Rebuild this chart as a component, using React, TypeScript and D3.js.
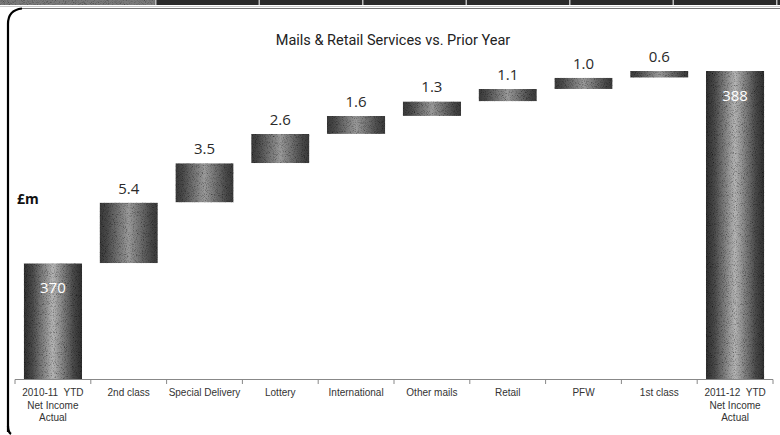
import React from "react";
import * as d3 from "d3";

const categories = [
  "2010-11  YTD|Net Income|Actual",
  "2nd class",
  "Special Delivery",
  "Lottery",
  "International",
  "Other mails",
  "Retail",
  "PFW",
  "1st class",
  "2011-12  YTD|Net Income|Actual",
];
const startValue = 370.45;
const deltas = [5.4, 3.5, 2.6, 1.6, 1.3, 1.1, 1.0, 0.6];
const title = "Mails & Retail Services vs. Prior Year";
const unitLabel = "£m";

const W = 780;
const H = 435;

export default function App() {
  const endValue = startValue + d3.sum(deltas);
  const base = 360.15;
  const x = d3.scaleBand<string>().domain(categories).range([15, 773]).padding(0);
  const y = d3.scaleLinear().domain([base, endValue]).range([379, 71]);
  const bw = x.bandwidth() * 0.77;

  type Bar = { cat: string; y0: number; y1: number; label: string; total: boolean };
  const bars: Bar[] = [];
  bars.push({ cat: categories[0], y0: base, y1: startValue, label: d3.format(".0f")(startValue), total: true });
  let cum = startValue;
  deltas.forEach((d, i) => {
    bars.push({ cat: categories[i + 1], y0: cum, y1: cum + d, label: d3.format(".1f")(d), total: false });
    cum += d;
  });
  bars.push({ cat: categories[9], y0: base, y1: endValue, label: d3.format(".0f")(endValue), total: true });

  const tickXs = categories.map((c) => x(c)!).concat([x.range()[1]]);
  const tabs = d3.range(0, 8);

  return (
    <svg width={W} height={H} style={{ position: "absolute", left: 0, top: 0, background: "#fff" }}>
      <defs>
        <linearGradient id="gFloat" x1="0" x2="1" y1="0" y2="0">
          <stop offset="0" stopColor="#3a3a3a" />
          <stop offset="0.12" stopColor="#484848" />
          <stop offset="0.5" stopColor="#9a9a9a" />
          <stop offset="0.88" stopColor="#484848" />
          <stop offset="1" stopColor="#3a3a3a" />
        </linearGradient>
        <linearGradient id="gTotal" x1="0" x2="1" y1="0" y2="0">
          <stop offset="0" stopColor="#2e2e2e" />
          <stop offset="0.15" stopColor="#4a4a4a" />
          <stop offset="0.5" stopColor="#b4b4b4" />
          <stop offset="0.85" stopColor="#4a4a4a" />
          <stop offset="1" stopColor="#2e2e2e" />
        </linearGradient>
        <filter id="grain" x="0" y="0" width="100%" height="100%">
          <feTurbulence type="fractalNoise" baseFrequency="1.1" numOctaves="2" seed="4" result="noise" />
          <feColorMatrix in="noise" type="saturate" values="0" result="gnoise" />
          <feComponentTransfer in="gnoise" result="tn">
            <feFuncR type="linear" slope="2.4" intercept="-0.25" />
            <feFuncG type="linear" slope="2.4" intercept="-0.25" />
            <feFuncB type="linear" slope="2.4" intercept="-0.25" />
            <feFuncA type="linear" slope="0" intercept="1" />
          </feComponentTransfer>
          <feBlend in="SourceGraphic" in2="tn" mode="multiply" result="bl" />
          <feComposite in="bl" in2="SourceAlpha" operator="in" />
        </filter>
      </defs>

      {/* top tab strip */}
      <rect x={0} y={0} width={W} height={5} fill="#2a2a2a" />
      <rect x={0} y={0} width={155} height={5} fill="#7a7a7a" filter="url(#grain)" />
      {tabs.map((i) => (
        <rect key={i} x={155 + i * 103.5} y={0} width={1.5} height={5} fill="#bbb" />
      ))}
      <line x1={0} x2={W} y1={6.5} y2={6.5} stroke="#ccc" strokeWidth={1} />

      {/* frame */}
      <line x1={20} x2={W} y1={8.5} y2={8.5} stroke="#777" strokeWidth={1} />
      <path d="M8,432 L8,24 Q8,10 22,8.5" fill="none" stroke="#000" strokeWidth={2.2} />
      <path d="M8,426 Q8,432 11,434" fill="none" stroke="#000" strokeWidth={2.2} />

      {/* title */}
      <text x={393} y={45} textAnchor="middle" fontFamily="Roboto, 'DejaVu Sans', sans-serif" fontSize={14.5} fill="#222">
        {title}
      </text>

      <text x={17} y={204} fontFamily="'Open Sans', 'DejaVu Sans', sans-serif" fontWeight="bold" fontSize={14} fill="#111">
        {unitLabel}
      </text>

      {/* bars */}
      {bars.map((b, i) => {
        const cx = x(b.cat)! + x.bandwidth() / 2;
        const top = y(b.y1);
        const bot = y(b.y0);
        return (
          <g key={i}>
            <rect
              x={cx - bw / 2}
              y={top}
              width={bw}
              height={bot - top}
              fill={b.total ? "url(#gTotal)" : "url(#gFloat)"}
              filter="url(#grain)"
            />
            {b.total ? (
              <text x={cx} y={top + 30} textAnchor="middle" fontFamily="'Open Sans', sans-serif" fontSize={15} fill="#fff">
                {b.label}
              </text>
            ) : (
              <text x={cx} y={top - 9} textAnchor="middle" fontFamily="'Open Sans', sans-serif" fontSize={15} fill="#2a2a2a">
                {b.label}
              </text>
            )}
          </g>
        );
      })}

      {/* axis */}
      <line x1={15} x2={773} y1={379.5} y2={379.5} stroke="#888" strokeWidth={1} />
      {tickXs.map((tx, i) => (
        <line key={i} x1={tx} x2={tx} y1={379.5} y2={384} stroke="#888" strokeWidth={1} />
      ))}
      {categories.map((c, i) => {
        const cx = x(c)! + x.bandwidth() / 2;
        const lines = c.split("|");
        return (
          <text key={i} x={cx} textAnchor="middle" fontFamily="'Liberation Sans', Arial, sans-serif" fontSize={10} fill="#333">
            {lines.map((l, j) => (
              <tspan key={j} x={cx} y={396 + j * 12.5} style={{ whiteSpace: "pre" }}>
                {l}
              </tspan>
            ))}
          </text>
        );
      })}
    </svg>
  );
}
